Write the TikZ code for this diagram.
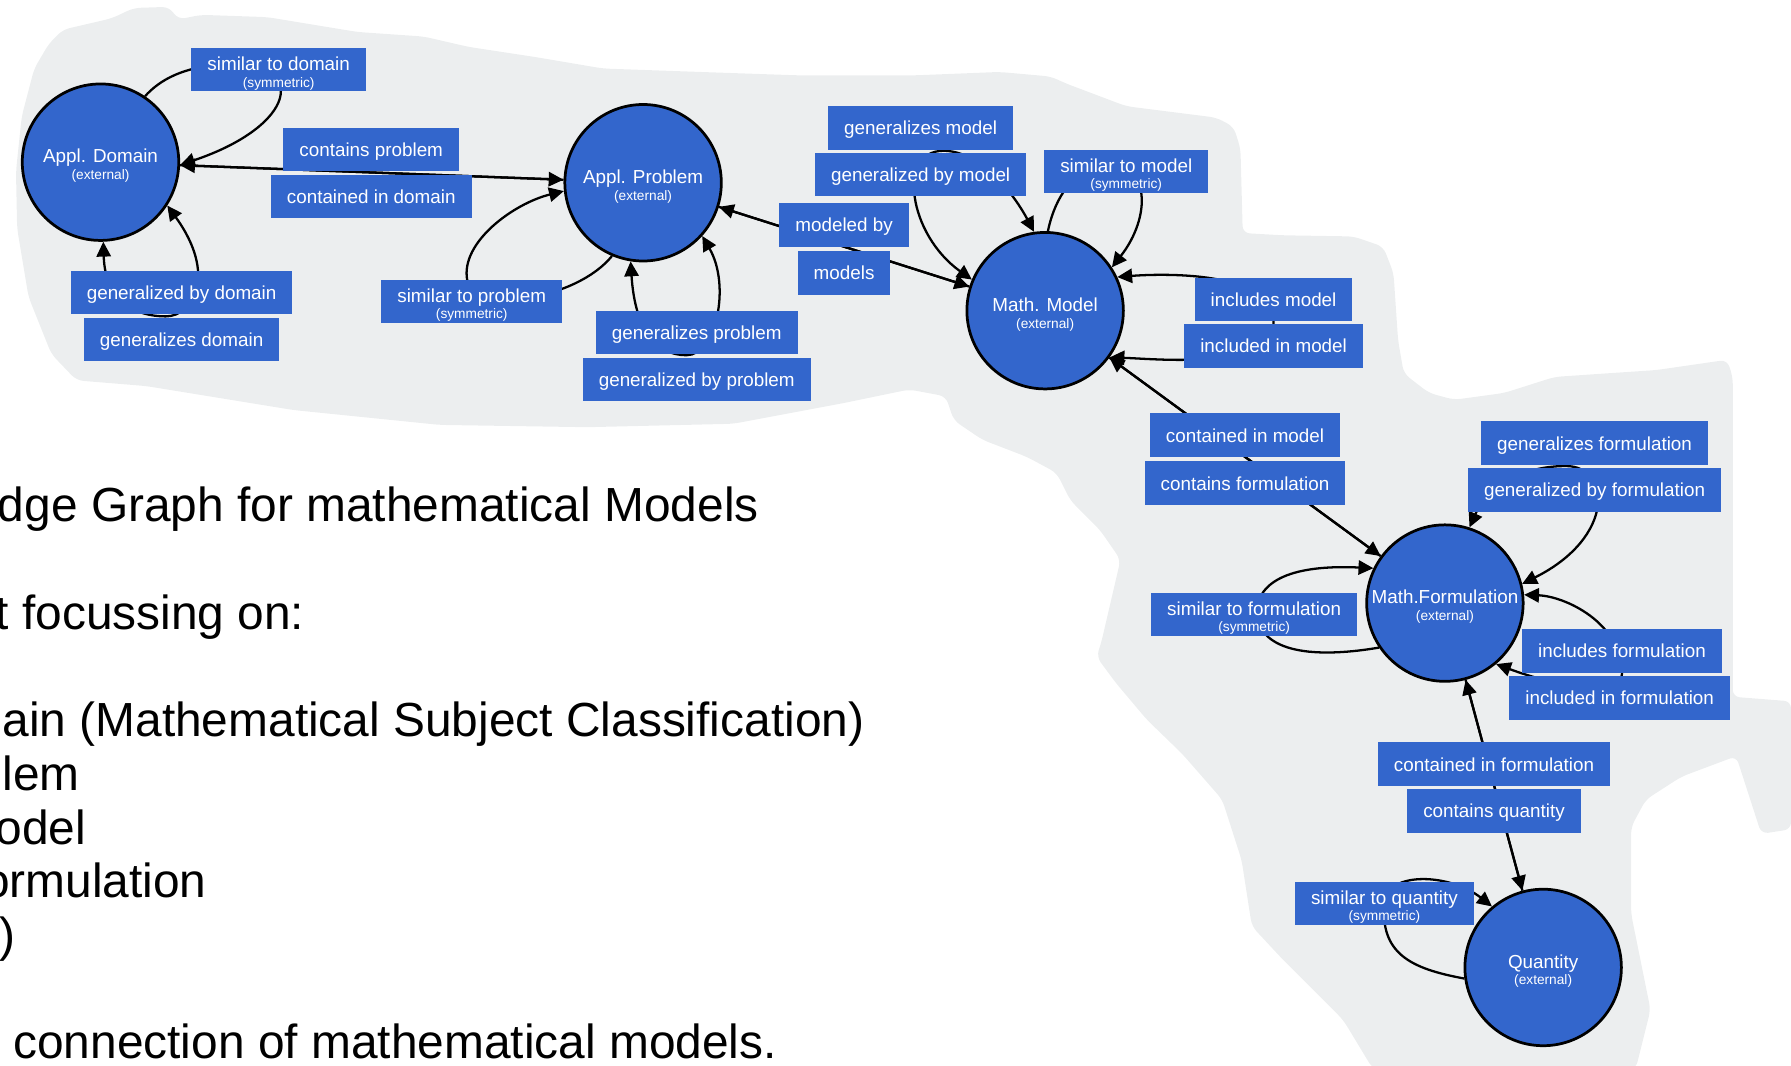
\documentclass[tikz,border=0pt]{standalone}
\usepackage{fontspec}
\setmainfont{Liberation Sans}
\usetikzlibrary{arrows.meta}
\definecolor{nodeblue}{RGB}{51,102,204}
\definecolor{blobgray}{RGB}{236,238,239}
\pgfdeclarelayer{bg}
\pgfdeclarelayer{edges}
\pgfsetlayers{bg,edges,main}
\newcommand{\twoline}[2]{\raisebox{-15.2pt}[0pt][0pt]{\vbox{\baselineskip=14.5pt\lineskiplimit=-20pt\lineskip=0pt\halign{\hfil##\hfil\cr{\fontsize{16.5}{19}\selectfont #1}\cr{\fontsize{12}{14}\selectfont #2}\cr}}}}
\newcommand{\oneline}[1]{\raisebox{-6pt}[0pt][0pt]{#1}}
\begin{document}
\begin{tikzpicture}[x=1pt,y=-1pt,
  circ/.style={circle, draw=black, line width=2.4pt, fill=nodeblue, text=white, minimum size=137pt, inner sep=0pt},
  lbl/.style={rectangle, fill=nodeblue, text=white, inner xsep=14pt, inner ysep=0pt, minimum height=38pt, font=\fontsize{16.5}{19}\selectfont},
  conn/.style={draw=black, line width=2pt, -{Triangle[length=13pt,width=12.5pt]}},
  conn2/.style={draw=black, line width=2pt, {Triangle[length=13pt,width=12.5pt]}-{Triangle[length=13pt,width=12.5pt]}},
  bigtxt/.style={anchor=base west, font=\fontsize{41.9}{48}\selectfont, inner sep=0pt, text=black}]
\useasboundingbox (0,0) rectangle (1568,933);

% background blob
\begin{pgfonlayer}{bg}
\fill[blobgray, rounded corners=6pt] (43,38) -- (55,26) -- (98,16) -- (117,7) -- (148,6) -- (156,17) -- (176,13) -- (234,15) -- (313,28) -- (371,32) -- (410,41) -- (469,50) -- (528,60) -- (613,63) -- (700,66) -- (800,66) -- (875,63) -- (920,67) -- (933,73) -- (986,93) -- (1065,103) -- (1080,111) -- (1086,130) -- (1088,204) -- (1123,206) -- (1185,207) -- (1211,216) -- (1220,239) -- (1224,298) -- (1229,327) -- (1251,344) -- (1273,350) -- (1317,344) -- (1361,330) -- (1405,327) -- (1450,324) -- (1512,315) -- (1517,330) -- (1517,610) -- (1568,614) -- (1568,726) -- (1542,730) -- (1520,662) -- (1472,680) -- (1441,700) -- (1428,724) -- (1428,800) -- (1445,884) -- (1432,936) -- (1202,936) -- (1176,893) -- (1123,840) -- (1096,811) -- (1087,753) -- (1070,700) -- (1035,660) -- (1004,630) -- (977,598) -- (960,575) -- (964,563) -- (981,490) -- (963,464) -- (937,438) -- (925,414) -- (899,400) -- (860,385) -- (835,368) -- (828,347) -- (796,341) -- (738,353) -- (642,371) -- (514,374) -- (385,372) -- (257,359) -- (128,338) -- (67,333) -- (45,310) -- (25,260) -- (15,200) -- (14,150) -- (19,102) -- (30,60) -- cycle;
\end{pgfonlayer}

% main nodes
\node[circ] (D) at (88,142) {\twoline{Appl. Domain}{(external)}};
\node[circ] (P) at (563,160) {\twoline{Appl. Problem}{(external)}};
\node[circ] (M) at (915,272) {\twoline{Math. Model}{(external)}};
\node[circ] (F) at (1265,528) {\twoline{Math.Formulation}{(external)}};
\node[circ] (Q) at (1351,847) {\twoline{Quantity}{(external)}};

% label boxes
\node[lbl] (lsimdom) at (244,61) {\twoline{similar to domain}{(symmetric)}};
\node[lbl] (lconprob) at (325,131) {\oneline{contains problem}};
\node[lbl] (lcindom) at (325,172) {\oneline{contained in domain}};
\node[lbl] (lgenbydom) at (159,256) {\oneline{generalized by domain}};
\node[lbl] (lgendom) at (159,297) {\oneline{generalizes domain}};
\node[lbl] (lsimprob) at (413,264) {\twoline{similar to problem}{(symmetric)}};
\node[lbl] (lgenprob) at (610,291) {\oneline{generalizes problem}};
\node[lbl] (lgenbyprob) at (610,332) {\oneline{generalized by problem}};
\node[lbl] (lgenmod) at (806,112) {\oneline{generalizes model}};
\node[lbl] (lgenbymod) at (806,153) {\oneline{generalized by model}};
\node[lbl] (lsimmod) at (986,150) {\twoline{similar to model}{(symmetric)}};
\node[lbl] (lmodeledby) at (739,197) {\oneline{modeled by}};
\node[lbl] (lmodels) at (739,239) {\oneline{models}};
\node[lbl] (linclmod) at (1115,262) {\oneline{includes model}};
\node[lbl] (linclinmod) at (1115,303) {\oneline{included in model}};
\node[lbl] (lcinmod) at (1090,381) {\oneline{contained in model}};
\node[lbl] (lconform) at (1090,423) {\oneline{contains formulation}};
\node[lbl] (lgenform) at (1396,388) {\oneline{generalizes formulation}};
\node[lbl] (lgenbyform) at (1396,429) {\oneline{generalized by formulation}};
\node[lbl] (lsimform) at (1098,538) {\twoline{similar to formulation}{(symmetric)}};
\node[lbl] (linclform) at (1420,570) {\oneline{includes formulation}};
\node[lbl] (linclinform) at (1418,611) {\oneline{included in formulation}};
\node[lbl] (lcinform) at (1308,669) {\oneline{contained in formulation}};
\node[lbl] (lconquant) at (1308,710) {\oneline{contains quantity}};
\node[lbl] (lsimquant) at (1212,791) {\twoline{similar to quantity}{(symmetric)}};

% connectors
\begin{pgfonlayer}{edges}
% Appl. Domain
\draw[conn] (D.56) .. controls (140,70) and (160,58) .. (200,56) .. controls (270,55) and (260,110) .. (D.-2);
\draw[conn] (D) -- (P);
\draw[conn] (P) -- (D);
\draw[conn2] (D.-88) .. controls (92,265) and (120,277) .. (145,277) .. controls (170,277) and (190,240) .. (D.-33);
% Appl. Problem
\draw[conn] (P.-113) .. controls (505,262) and (420,275) .. (409,245) .. controls (403,212) and (450,178) .. (P.186);
\draw[conn2] (P.-99) .. controls (556,290) and (575,311) .. (601,311) .. controls (627,311) and (640,250) .. (P.-42);
\draw[conn] (M) -- (P);
\draw[conn] (P) -- (M);
% Math. Model
\draw[conn2] (M.157) .. controls (795,205) and (785,132) .. (826,132) .. controls (856,132) and (885,165) .. (M.98);
\draw[conn] (M.88) .. controls (922,180) and (935,150) .. (965,145) .. controls (1008,140) and (1008,190) .. (M.33);
\draw[conn2] (M.25) .. controls (1010,240) and (1115,235) .. (1115,282) .. controls (1115,325) and (1010,314) .. (M.-36);
\draw[conn] (M) -- (F);
\draw[conn] (F) -- (M);
% Math.Formulation
\draw[conn2] (F.72) .. controls (1305,420) and (1340,408) .. (1371,408) .. controls (1410,408) and (1415,470) .. (F.14);
\draw[conn] (F.214) .. controls (1160,575) and (1105,575) .. (1100,538) .. controls (1100,500) and (1150,495) .. (F.154);
\draw[conn2] (F.6) .. controls (1370,522) and (1420,545) .. (1420,590) .. controls (1420,612) and (1360,600) .. (F.-50);
\draw[conn] (F) -- (Q);
\draw[conn] (Q) -- (F);
% Quantity
\draw[conn] (Q.188) .. controls (1235,848) and (1208,835) .. (1212,790) .. controls (1215,762) and (1270,765) .. (Q.130);
\end{pgfonlayer}

% text block (cut at the left edge as in the reference)
\node[bigtxt] (t1) at (-2,457) {dge Graph for mathematical Models};
\node[bigtxt] (t2) at (-4,551) {t focussing on:};
\node[bigtxt] (t3) at (2,645) {ain (Mathematical Subject Classification)};
\node[bigtxt] (t4) at (2,692) {lem};
\node[bigtxt] (t5) at (-4,739) {odel};
\node[bigtxt] (t6) at (-15,786) {ormulation};
\node[bigtxt] (t7) at (-1,833) {)};
\node[bigtxt] (t8) at (11.5,927) {connection of mathematical models.};
\end{tikzpicture}
\end{document}
